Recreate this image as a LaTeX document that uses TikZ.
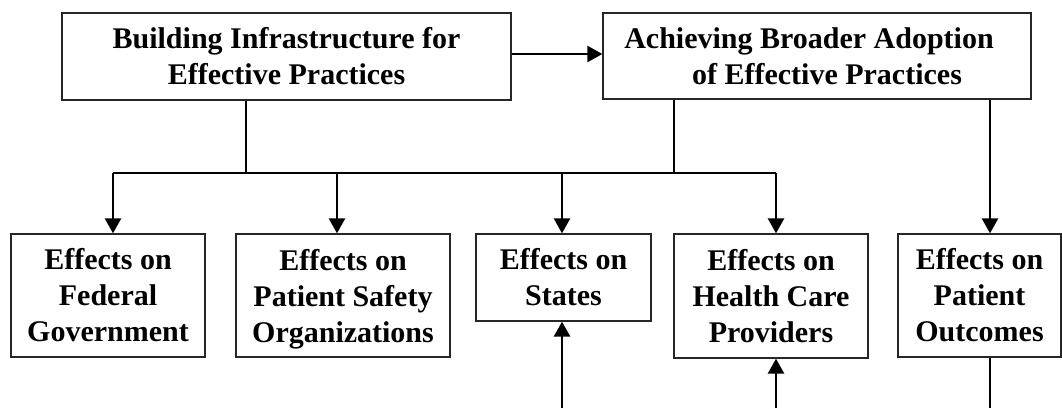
\documentclass[tikz,border=0pt]{standalone}
\usepackage{fontspec}
\setmainfont{Liberation Serif}
\usetikzlibrary{arrows.meta}
\begin{document}
\begin{tikzpicture}[x=1pt,y=-1pt,
  box/.style={draw=black!85,line width=1.3pt,rectangle,inner sep=0pt,align=center,
    font=\fontsize{30}{36}\selectfont\bfseries},
  conn/.style={line width=2.6pt,draw=black},
  arr/.style={conn,-{Triangle[length=15pt,width=16pt]}}]
\useasboundingbox (0,0) rectangle (1062,408);
% top boxes
\node[box,minimum width=449pt,minimum height=87pt] (A) at (286.5,56.5)
  {Building Infrastructure for\\Effective Practices};
\node[box,minimum width=428pt,minimum height=86pt] (B) at (817,56)
  {Achieving Broader Adoption\hspace*{16pt}\\\hspace*{20pt}of Effective Practices};
% bottom boxes
\node[box,minimum width=194pt,minimum height=123pt] (E1) at (108,295.5)
  {Effects on\\Federal\\Government};
\node[box,minimum width=214pt,minimum height=123pt] (E2) at (343,295.5)
  {Effects on\\Patient Safety\\\smash{Organizations}};
\node[box,minimum width=175pt,minimum height=87pt] (E3) at (563.5,277.5)
  {Effects on\\States};
\node[box,minimum width=194pt,minimum height=124pt] (E4) at (771,296)
  {Effects on\\Health Care\\Providers};
\node[box,minimum width=163pt,minimum height=123pt] (E5) at (979.5,295.5)
  {Effects on\\Patient\\Outcomes};
% junction coordinates
\coordinate (jA) at (246,173);
\coordinate (jB) at (674,173);
\coordinate (d1) at (113,173);
\coordinate (d2) at (337,173);
\coordinate (d3) at (562,173);
\coordinate (d4) at (776,173);
\coordinate (c5) at (990,408);
\coordinate (b3) at (562,408);
\coordinate (b4) at (776,408);
% connectors
\draw[arr] ([yshift=2.5pt]A.east) -- ([yshift=2.5pt]A.east -| B.west);
\draw[conn] (A.south -| jA) -- (jA);
\draw[conn] (B.south -| jB) -- (jB);
\draw[conn] (d1) -- (d4);
\draw[arr] (d1) -- (d1 |- E1.north);
\draw[arr] (d2) -- (d2 |- E2.north);
\draw[arr] (d3) -- (d3 |- E3.north);
\draw[arr] (d4) -- (d4 |- E4.north);
\draw[arr] (B.south -| c5) -- (E5.north -| c5);
\draw[conn] (E5.south -| c5) -- (c5);
\draw[arr] (b3) -- (b3 |- E3.south);
\draw[arr] (b4) -- (b4 |- E4.south);
\end{tikzpicture}
\end{document}
